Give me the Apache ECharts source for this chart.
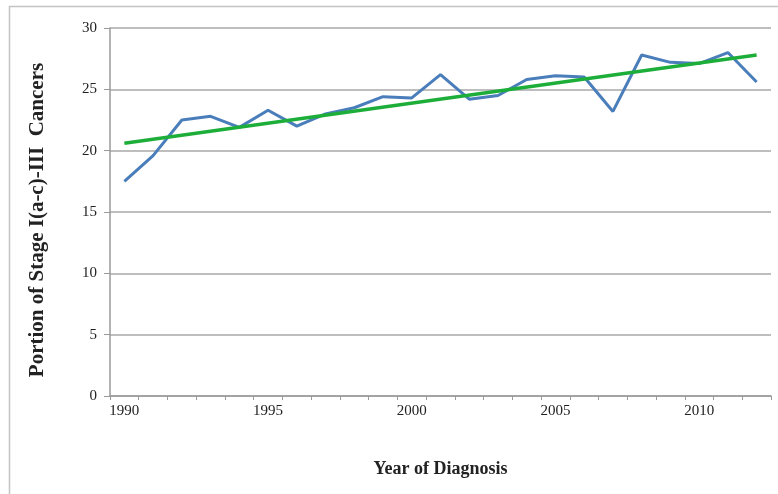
<!DOCTYPE html>
<html>
<head>
<meta charset="utf-8">
<script src="https://cdn.jsdelivr.net/npm/echarts@6/dist/echarts.min.js"></script>
<style>
html,body{margin:0;padding:0;background:#fff;}
#chart{width:778px;height:494px;}
</style>
</head>
<body>
<div id="chart"></div>
<script>
const years = ['1990','1991','1992','1993','1994','1995','1996','1997','1998','1999','2000','2001','2002','2003','2004','2005','2006','2007','2008','2009','2010','2011','2012'];
const portion = [17.5,19.6,22.5,22.8,21.9,23.3,22.0,23.0,23.5,24.4,24.3,26.2,24.2,24.5,25.8,26.1,26.0,23.2,27.8,27.2,27.1,28.0,25.6];
const trend = [20.6,null,null,null,null,null,null,null,null,null,null,null,null,null,null,null,null,null,null,null,null,null,27.8];
const yTicks = [0,5,10,15,20,25,30];
const labelYears = ['1990','1995','2000','2005','2010'];

const chart = echarts.init(document.getElementById('chart'), null, {renderer:'canvas'});
const font = 'Liberation Serif, Times New Roman, serif';
chart.setOption({
  animation:false,
  backgroundColor:'#fff',
  graphic:[{
    type:'rect', shape:{x:9.5,y:6.5,width:800,height:520},
    style:{fill:'none',stroke:'#c4c4c4',lineWidth:1.5}, silent:true
  }],
  grid:{left:110,right:7,top:28,bottom:98},
  xAxis:{
    type:'category', data:years, boundaryGap:true,
    axisLine:{lineStyle:{color:'#9a9a9a',width:1.5}},
    axisTick:{show:true,length:4,interval:0,lineStyle:{color:'#9a9a9a'}},
    axisLabel:{interval:0,margin:8,fontFamily:font,fontSize:15,color:'#222',
      formatter:v=>labelYears.includes(v)?v:''},
    name:'Year of Diagnosis', nameLocation:'middle', nameGap:64,
    nameTextStyle:{fontFamily:font,fontSize:18,fontWeight:'bold',color:'#222'}
  },
  yAxis:{
    type:'value', min:yTicks[0], max:yTicks[yTicks.length-1], interval:5,
    axisLine:{show:true,lineStyle:{color:'#9a9a9a',width:1.5}},
    axisTick:{show:true,length:6,inside:false,lineStyle:{color:'#9a9a9a'}},
    axisLabel:{margin:13,fontFamily:font,fontSize:15,color:'#222'},
    splitLine:{lineStyle:{color:'#a8a8a8',width:1.5}},
    name:'Portion of Stage I(a-c)-III  Cancers', nameLocation:'middle', nameGap:62,
    nameTextStyle:{fontFamily:font,fontSize:21,fontWeight:'bold',color:'#222',padding:[0,16,0,0]}
  },
  series:[
    {type:'line', data:portion, symbol:'none', lineStyle:{color:'#4A7EBB',width:3}, z:2},
    {type:'line', data:trend, connectNulls:true, symbol:'none', lineStyle:{color:'#1DAE3A',width:3.5}, z:3}
  ]
});
</script>
</body>
</html>
